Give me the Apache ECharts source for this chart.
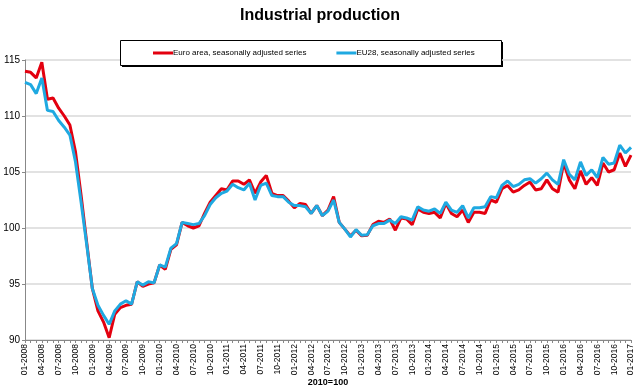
<!DOCTYPE html>
<html><head><meta charset="utf-8">
<script src="https://cdn.jsdelivr.net/npm/echarts@6/dist/echarts.min.js"></script>
<style>html,body{margin:0;padding:0;background:#fff}#c{width:640px;height:389px}</style>
</head><body><div id="c"></div>
<script>
const title = "Industrial production";
const axisName = "2010=100";
const seriesNames = ["Euro area, seasonally adjusted series", "EU28, seasonally adjusted series"];
const years = [2008,2009,2010,2011,2012,2013,2014,2015,2016,2017];
const monthCodes = ["01","02","03","04","05","06","07","08","09","10","11","12"];
const categories = [];
years.forEach(y => monthCodes.forEach(m => { if (y < 2017 || m === "01") categories.push(m + "-" + y); }));
const euroArea = [114.0,113.9,113.4,114.8,111.5,111.6,110.7,110.0,109.2,106.8,102.9,98.7,
 94.6,92.6,91.6,90.2,92.3,92.9,93.1,93.2,95.2,94.8,95.0,95.1,
 96.7,96.3,98.1,98.5,100.5,100.2,100.0,100.2,101.3,102.3,102.9,103.5,
 103.4,104.2,104.2,103.9,104.3,103.1,104.1,104.7,103.1,102.9,102.9,102.4,
 101.8,102.2,102.1,101.3,102.0,101.1,101.6,102.8,100.5,99.9,99.3,99.8,
 99.3,99.35,100.3,100.6,100.5,100.8,99.8,100.9,100.8,100.3,101.7,101.4,
 101.3,101.4,100.9,102.2,101.3,101.0,101.6,100.5,101.4,101.4,101.3,102.5,
 102.3,103.5,103.8,103.2,103.4,103.8,104.1,103.4,103.5,104.3,103.5,103.2,
 105.8,104.3,103.5,105.1,103.9,104.5,103.8,105.8,105.0,105.2,106.7,105.5,
 106.5];
const eu28 = [113.0,112.8,112.0,113.4,110.5,110.4,109.6,109.0,108.3,105.9,102.3,98.5,
 94.6,93.1,92.2,91.4,92.6,93.2,93.5,93.2,95.2,94.9,95.2,95.1,
 96.7,96.5,98.2,98.6,100.5,100.4,100.3,100.4,101.1,102.1,102.7,103.1,
 103.3,103.9,103.6,103.4,104.0,102.5,103.8,104.0,102.9,102.8,102.8,102.3,
 102.0,102.0,101.9,101.3,102.0,101.1,101.5,102.5,100.5,99.9,99.2,99.85,
 99.35,99.4,100.2,100.4,100.4,100.7,100.4,101.0,100.9,100.7,101.9,101.6,
 101.5,101.7,101.3,102.3,101.6,101.4,102.0,100.9,101.8,101.8,101.9,102.8,
 102.7,103.8,104.2,103.7,103.9,104.3,104.4,104.0,104.4,104.9,104.3,103.9,
 106.1,104.8,104.3,105.9,104.7,105.2,104.5,106.3,105.7,105.8,107.4,106.7,
 107.2];
const yTicks = [90, 95, 100, 105, 110, 115];

const chart = echarts.init(document.getElementById('c'), null, {renderer: 'canvas'});
const font = "Liberation Sans, Arial, sans-serif";
chart.setOption({
  animation: false,
  backgroundColor: '#fff',
  title: {text: title, left: 'center', top: 3,
    textStyle: {fontFamily: font, fontSize: 16, fontWeight: 'bold', color: '#000'}},
  graphic: [
    {type: 'rect', left: 122, top: 42, z: 0, silent: true,
      shape: {width: 381, height: 25}, style: {fill: '#000'}},
    {type: 'rect', left: 120, top: 40, z: 1, silent: true,
      shape: {width: 381, height: 25}, style: {fill: '#fff', stroke: '#000', lineWidth: 1}},
    {type: 'text', x: 328, y: 383, z: 5, silent: true,
      style: {text: axisName, font: 'bold 9px ' + font, fill: '#000', align: 'center', verticalAlign: 'middle'}}
  ],
  legend: {left: 153, top: 49, padding: 0, itemGap: 30, itemWidth: 20, itemHeight: 3, icon: 'rect', z: 10,
    textStyle: {fontFamily: font, fontSize: 8, color: '#000', padding: [0,0,0,-5]},
    data: seriesNames},
  grid: {left: 25, right: 9, top: 60, bottom: 49, outerBoundsMode: 'none'},
  xAxis: {type: 'category', data: categories, boundaryGap: false,
    axisLine: {lineStyle: {color: '#888', width: 1}},
    axisTick: {interval: 0, length: 3, lineStyle: {color: '#888'}},
    axisLabel: {interval: 2, rotate: 90, fontFamily: font, fontSize: 8.5, color: '#000', margin: 4}},
  yAxis: {type: 'value', min: yTicks[0], max: yTicks[yTicks.length-1], interval: 5,
    axisLine: {show: true, lineStyle: {color: '#888'}},
    axisTick: {show: true, length: 3, lineStyle: {color: '#888'}},
    axisLabel: {fontFamily: font, fontSize: 10, color: '#000', margin: 5},
    splitLine: {lineStyle: {color: '#d9d9d9', width: 1.5}}},
  series: [
    {name: seriesNames[0], type: 'line', data: euroArea, showSymbol: false, symbol: 'none',
      lineStyle: {color: '#e3000f', width: 3}, itemStyle: {color: '#e3000f'}},
    {name: seriesNames[1], type: 'line', data: eu28, showSymbol: false, symbol: 'none',
      lineStyle: {color: '#1fa9e1', width: 3}, itemStyle: {color: '#1fa9e1'}}
  ]
});
</script></body></html>
